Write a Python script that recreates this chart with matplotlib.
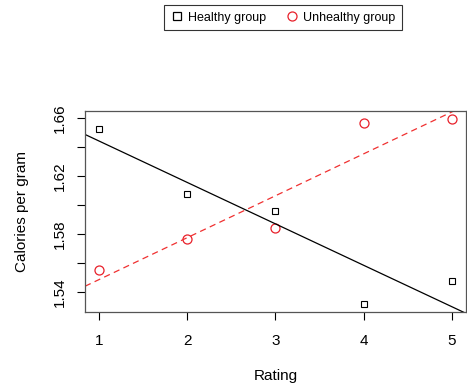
import numpy as np
import matplotlib
matplotlib.use('Agg')
import matplotlib.pyplot as plt
from matplotlib.lines import Line2D

plt.rcParams['font.family'] = ['Liberation Sans', 'DejaVu Sans']

rating = [1, 2, 3, 4, 5]
healthy = [1.6526, 1.6077, 1.5960, 1.5315, 1.5476]
unhealthy = [1.5552, 1.5766, 1.5842, 1.6568, 1.6599]
yticks = [1.54, 1.56, 1.58, 1.60, 1.62, 1.64, 1.66]
ylabels = ['1.54', '', '1.58', '', '1.62', '', '1.66']

fig = plt.figure(figsize=(4.67, 3.86), dpi=100)
ax = fig.add_axes([85/467, 1-311.7/386, 381/467, 201/386])

ax.plot(rating, healthy, 's', mfc='none', mec='black', ms=5, mew=0.8)
ax.plot(rating, unhealthy, 'o', mfc='none', mec='#e8202a', ms=6.5, mew=0.9)

ax.set_xlim(0.84, 5.16)
ax.set_ylim(1.5264, 1.6653)

# regression lines, like abline(lm(...))
xx = np.array([0.84, 5.16])
b1, a1 = np.polyfit(rating, healthy, 1)
b2, a2 = np.polyfit(rating, unhealthy, 1)
ax.plot(xx, a1 + b1*xx, color='black', lw=0.9)
ax.plot(xx, a2 + b2*xx, color='#f03030', lw=0.9, ls=(0, (5, 3.5)))

ax.set_xticks(rating)
ax.set_yticks(yticks)
ax.set_yticklabels(ylabels, rotation=90, va='center')
ax.tick_params(direction='out', length=6, width=0.8, labelsize=11, pad=10)
ax.tick_params(axis='y', pad=7)
for s in ax.spines.values():
    s.set_color('#555555')
    s.set_linewidth(0.9)

ax.set_xlabel('Rating', fontsize=11, labelpad=15)
ax.set_ylabel('Calories per gram', fontsize=11, labelpad=17)

handles = [Line2D([], [], ls='none', marker='s', mfc='none', mec='black', ms=6, mew=0.9),
           Line2D([], [], ls='none', marker='o', mfc='none', mec='#e8202a', ms=6.5, mew=0.9)]
leg = fig.legend(handles, ['Healthy group', 'Unhealthy group'], ncol=2,
                 loc='center', bbox_to_anchor=(283/467, 1-17.5/386),
                 fontsize=9, frameon=True, fancybox=False, edgecolor='black',
                 handlelength=1.0, handletextpad=0.4, columnspacing=1.6,
                 borderpad=0.5)
leg.get_frame().set_linewidth(0.8)

fig.savefig('out.png', dpi=100)
